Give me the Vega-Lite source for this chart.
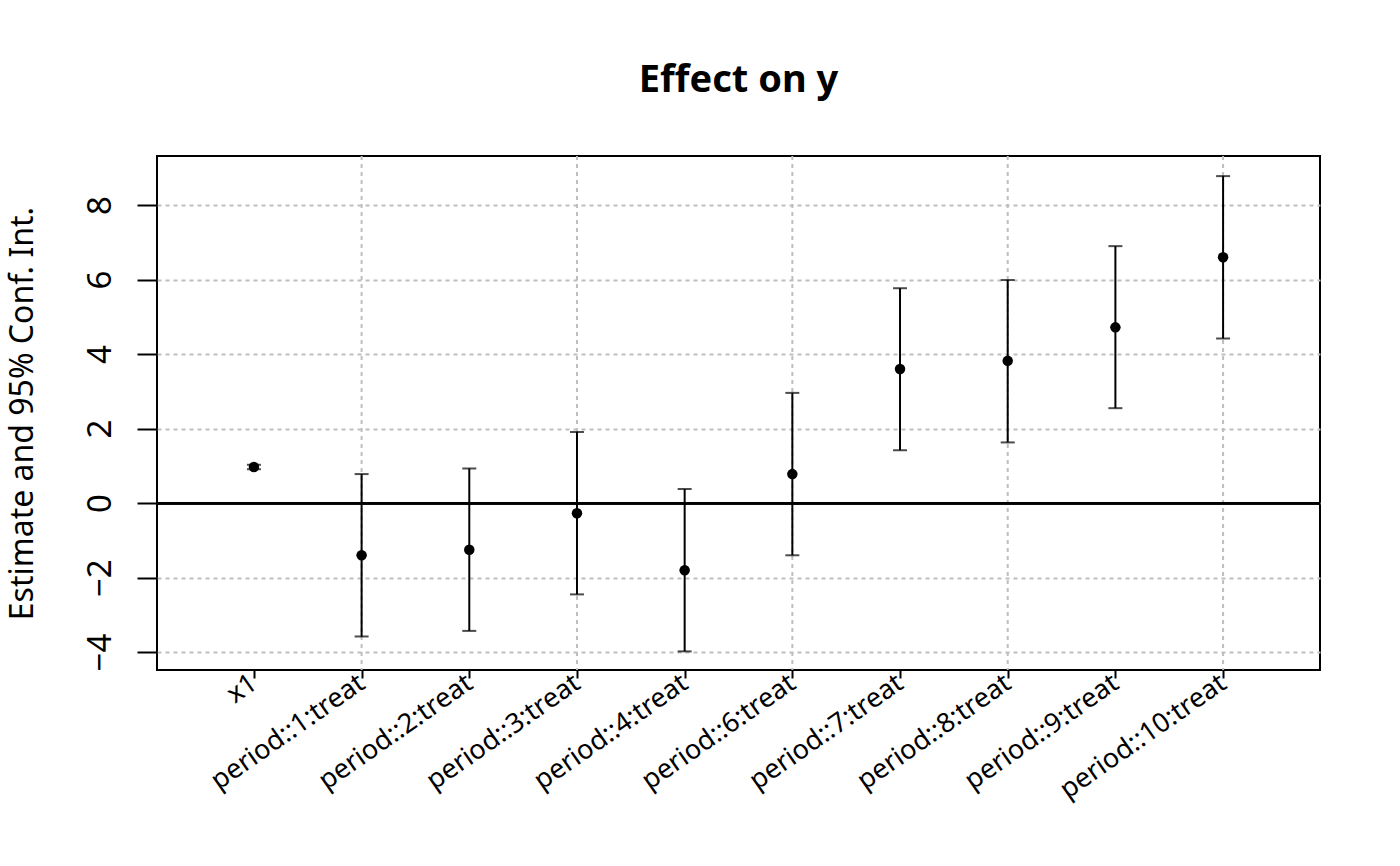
{
  "$schema": "https://vega.github.io/schema/vega-lite/v6.json",
  "autosize": "none",
  "width": 1163,
  "height": 514,
  "padding": {"left": 157, "top": 156, "right": 80, "bottom": 196},
  "background": "white",
  "title": {
    "text": "Effect on y",
    "fontSize": 38,
    "fontWeight": "bold",
    "font": "Noto Sans",
    "color": "#000",
    "anchor": "middle",
    "frame": "group",
    "baseline": "alphabetic",
    "offset": 25
  },
  "config": {
    "font": "Noto Sans",
    "view": {"stroke": "#000", "strokeWidth": 2},
    "axis": {
      "domainColor": "#000",
      "tickColor": "#000",
      "labelColor": "#000",
      "titleColor": "#000",
      "titleFontWeight": "normal"
    }
  },
  "data": {
    "values": [
      {"term": "x1", "est": 0.97, "lo": 0.91, "hi": 1.03},
      {"term": "period::1:treat", "est": -1.40, "lo": -3.58, "hi": 0.78},
      {"term": "period::2:treat", "est": -1.25, "lo": -3.43, "hi": 0.93},
      {"term": "period::3:treat", "est": -0.27, "lo": -2.45, "hi": 1.91},
      {"term": "period::4:treat", "est": -1.80, "lo": -3.98, "hi": 0.38},
      {"term": "period::6:treat", "est": 0.78, "lo": -1.40, "hi": 2.96},
      {"term": "period::7:treat", "est": 3.60, "lo": 1.42, "hi": 5.77},
      {"term": "period::8:treat", "est": 3.82, "lo": 1.63, "hi": 5.99},
      {"term": "period::9:treat", "est": 4.72, "lo": 2.55, "hi": 6.90},
      {"term": "period::10:treat", "est": 6.60, "lo": 4.42, "hi": 8.78}
    ]
  },
  "encoding": {
    "x": {
      "field": "term",
      "type": "nominal",
      "sort": null,
      "scale": {
        "type": "point",
        "padding": 0.9,
        "domain": ["x1", "period::1:treat", "period::2:treat", "period::3:treat", "period::4:treat", "period::6:treat", "period::7:treat", "period::8:treat", "period::9:treat", "period::10:treat"]
      },
      "axis": {
        "title": null,
        "labelAngle": -35,
        "labelAlign": "right",
        "labelBaseline": "middle",
        "labelFontSize": 27,
        "labelLimit": 400,
        "labelPadding": 2,
        "tickSize": 8,
        "tickWidth": 2,
        "domain": false,
        "grid": false
      }
    }
  },
  "layer": [
    {
      "transform": [{"filter": "indexof(['period::1:treat','period::3:treat','period::6:treat','period::8:treat','period::10:treat'], datum.term) >= 0"}],
      "mark": {"type": "rule", "color": "#bebebe", "strokeDash": [4, 4], "strokeWidth": 2},
      "encoding": {}
    },
    {
      "mark": {"type": "rule", "color": "#000", "strokeWidth": 2},
      "encoding": {
        "y": {
          "field": "lo",
          "type": "quantitative",
          "scale": {"domain": [-4.48, 9.32], "nice": false, "zero": false},
          "axis": {
            "title": "Estimate and 95% Conf. Int.",
            "titleFontSize": 32,
            "titleAngle": -90,
            "titleX": -135,
            "titleY": 257,
            "titleAlign": "center",
            "titleBaseline": "middle",
            "values": [-4, -2, 0, 2, 4, 6, 8],
            "labelAngle": -90,
            "labelAlign": "center",
            "labelBaseline": "alphabetic",
            "labelFontSize": 33,
            "labelPadding": 27,
            "tickSize": 20,
            "tickWidth": 2,
            "domain": false,
            "grid": true,
            "gridColor": "#bebebe",
            "gridDash": [4, 4],
            "gridWidth": 2
          }
        },
        "y2": {"field": "hi"}
      }
    },
    {
      "mark": {"type": "rule", "color": "#000", "strokeWidth": 2},
      "encoding": {"y": {"datum": 0}, "x": null}
    },
    {
      "mark": {"type": "tick", "color": "#000", "size": 14, "thickness": 2, "orient": "horizontal"},
      "encoding": {"y": {"field": "lo", "type": "quantitative"}}
    },
    {
      "mark": {"type": "tick", "color": "#000", "size": 14, "thickness": 2, "orient": "horizontal"},
      "encoding": {"y": {"field": "hi", "type": "quantitative"}}
    },
    {
      "mark": {"type": "point", "filled": true, "color": "#000", "opacity": 1, "size": 110},
      "encoding": {"y": {"field": "est", "type": "quantitative"}}
    }
  ]
}
